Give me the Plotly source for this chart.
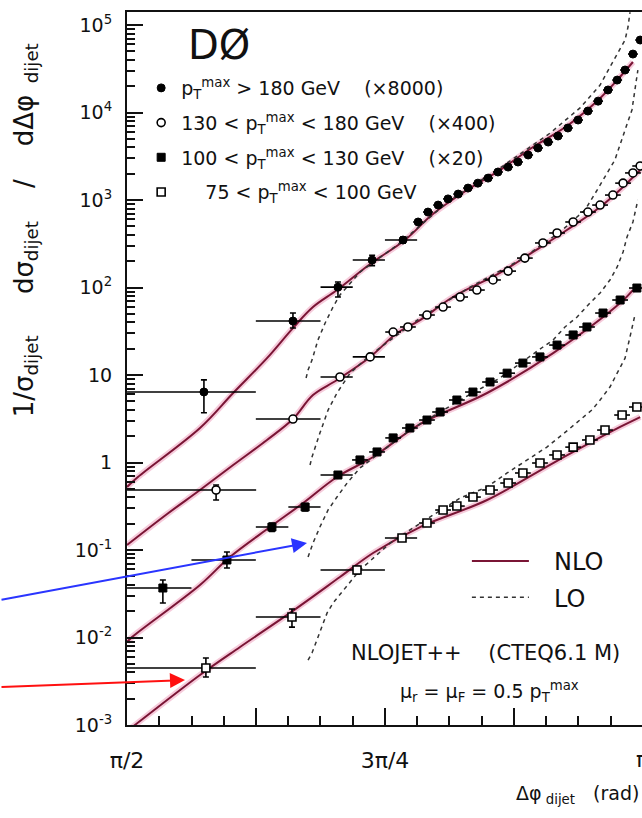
import math
import plotly.graph_objects as go

PI = math.pi

# ---------------- measured data (Δφ in rad, normalised cross section) ----------------
# pT^max > 180 GeV  (x8000)
s1_x = [1.805, 2.076, 2.213, 2.317, 2.411, 2.457, 2.487, 2.518, 2.548, 2.579, 2.609, 2.639, 2.670, 2.700,
        2.731, 2.761, 2.792, 2.822, 2.853, 2.883, 2.913, 2.944, 2.974, 3.005, 3.035, 3.063, 3.087, 3.111, 3.133]
s1_y = [6.4, 41.4, 101, 206, 349, 561, 729, 876, 1030, 1170, 1370, 1560, 1780, 2090,
        2380, 2720, 3270, 3930, 4600, 5390, 6650, 8210, 10400, 13500, 18100, 23500, 30600, 46600, 67400]
s1_xm = [0.234, 0.113, 0.053, 0.059, 0.055] + [0.015] * 24
s1_xp = [0.158, 0.084, 0.045, 0.039, 0.043] + [0.015] * 24
s1_yp = [2.4, 9.7, 14.6, 28, 28] + [0] * 24
s1_ym = [2.7, 7.0, 23, 28, 28] + [0] * 24

# 130 < pT^max < 180 GeV  (x400)
s2_x = [1.842, 2.076, 2.219, 2.311, 2.381, 2.426, 2.484, 2.533, 2.585, 2.636, 2.685, 2.731, 2.782, 2.837,
        2.880, 2.929, 2.974, 3.011, 3.050, 3.081, 3.111, 3.133]
s2_y = [0.485, 3.14, 9.49, 16.1, 31.0, 35.4, 48.5, 59.8, 77.9, 93.6, 122, 154, 217, 323,
        420, 561, 729, 876, 1140, 1560, 2040, 2450]
s2_xm = [0.271, 0.113, 0.059, 0.053] + [0.024] * 18
s2_xp = [0.122, 0.084, 0.039, 0.045] + [0.024] * 18
s2_yp = [0.068, 0.25, 0.6, 1.0] + [0] * 18
s2_ym = [0.112, 0.25, 0.6, 1.0] + [0] * 18

# 100 < pT^max < 130 GeV  (x20)
s3_x = [1.680, 1.875, 2.012, 2.113, 2.213, 2.280, 2.332, 2.381, 2.432, 2.484, 2.524, 2.575, 2.624, 2.676,
        2.728, 2.776, 2.828, 2.880, 2.929, 2.971, 3.020, 3.072, 3.123]
s3_y = [0.0368, 0.0769, 0.183, 0.310, 0.720, 1.07, 1.32, 1.91, 2.48, 3.06, 3.78, 5.18, 6.39, 8.32,
        10.5, 13.7, 16.1, 22.0, 28.7, 35.4, 51.1, 72.0, 98.7]
s3_xm = [0.109, 0.108, 0.049, 0.051, 0.053] + [0.024] * 18
s3_xp = [0.087, 0.088, 0.050, 0.047, 0.045] + [0.024] * 18
s3_yp = [0.0086, 0.018, 0.02, 0.03, 0.05] + [0] * 18
s3_ym = [0.012, 0.0146, 0.02, 0.03, 0.05] + [0] * 18

# 75 < pT^max < 100 GeV
s4_x = [1.811, 2.073, 2.271, 2.408, 2.484, 2.533, 2.575, 2.624, 2.676, 2.731, 2.776, 2.828, 2.880, 2.929,
        2.980, 3.026, 3.078, 3.123]
s4_y = [0.00448, 0.01715, 0.0591, 0.137, 0.2035, 0.2865, 0.318, 0.403, 0.485, 0.583, 0.759, 0.987, 1.22, 1.50,
        1.81, 2.35, 3.49, 4.31]
s4_xm = [0.240, 0.110, 0.111, 0.052] + [0.024] * 14
s4_xp = [0.152, 0.087, 0.085, 0.046] + [0.024] * 14
s4_yp = [0.00135, 0.0040, 0.006, 0.01] + [0] * 14
s4_ym = [0.00094, 0.0040, 0.006, 0.01] + [0] * 14

# NLO predictions
nlo1_x = [1.5708, 1.604, 1.793, 1.894, 1.997, 2.076, 2.137, 2.210, 2.311, 2.417, 2.502, 2.606, 2.706, 2.807,
          2.910, 3.011, 3.063, 3.111]
nlo1_y = [0.525, 0.683, 2.48, 6.23, 15.6, 34.4, 59.8, 93.6, 186, 349, 692, 1300, 2200, 4040,
          7010, 14600, 23500, 37800]
nlo2_x = [1.5708, 1.693, 1.793, 1.894, 1.997, 2.076, 2.137, 2.210, 2.311, 2.393, 2.463, 2.563, 2.706, 2.807,
          2.910, 3.011, 3.081, 3.133]
nlo2_y = [0.114, 0.258, 0.485, 0.936, 1.81, 3.14, 5.91, 8.77, 16.1, 30.2, 42.5, 77.9, 147, 255,
          454, 832, 1410, 2200]
nlo3_x = [1.5708, 1.586, 1.793, 1.884, 2.006, 2.107, 2.210, 2.320, 2.463, 2.667, 2.868, 3.072, 3.111]
nlo3_y = [0.00888, 0.0101, 0.0398, 0.0832, 0.183, 0.344, 0.683, 1.156, 2.75, 6.23, 17.8, 66.5, 93.6]
nlo4_x = [1.5708, 1.595, 1.793, 1.915, 2.067, 2.219, 2.320, 2.463, 2.667, 2.868, 3.072, 3.133]
nlo4_y = [0.00085, 0.001, 0.00373, 0.00779, 0.0191, 0.0491, 0.0924, 0.183, 0.373, 0.987, 2.55, 3.31]

# LO predictions
lo1_x = [2.116, 2.122, 2.134, 2.152, 2.174, 2.198, 2.219, 2.280, 2.402, 2.554, 2.706, 2.859, 2.950, 3.011,
         3.041, 3.066, 3.087, 3.096, 3.102]
lo1_y = [9.24, 11.4, 14.8, 25.1, 39.3, 59.8, 82.1, 150, 323, 1000, 2320, 5830, 11300, 20600,
         33100, 47900, 67400, 94900, 140000]
lo2_x = [2.128, 2.134, 2.158, 2.183, 2.210, 2.250, 2.311, 2.463, 2.615, 2.767, 2.889, 2.965, 3.002, 3.026,
         3.056, 3.087, 3.108, 3.126]
lo2_y = [0.936, 1.156, 2.17, 3.98, 6.23, 10.5, 16.9, 44.8, 101, 206, 431, 769, 1300, 1830,
         2870, 6310, 10700, 30600]
lo3_x = [2.122, 2.137, 2.158, 2.183, 2.210, 2.241, 2.280, 2.432, 2.585, 2.706, 2.837, 2.868, 2.904, 2.941,
         2.980, 3.011, 3.041, 3.063, 3.081, 3.093, 3.111, 3.126]
lo3_y = [0.0832, 0.120, 0.183, 0.287, 0.403, 0.583, 0.865, 2.35, 5.18, 9.24, 20.9, 25.1, 35.4, 46.0,
         66.5, 86.5, 122, 172, 255, 378, 561, 1000]
lo4_x = [2.122, 2.134, 2.149, 2.164, 2.180, 2.198, 2.225, 2.280, 2.372, 2.478, 2.585, 2.667, 2.728, 2.789,
         2.849, 2.913, 2.950, 2.986, 3.011, 3.041, 3.063, 3.087, 3.102, 3.117]
lo4_y = [0.00553, 0.00665, 0.00936, 0.0132, 0.0191, 0.0248, 0.0331, 0.0591, 0.120, 0.220, 0.393, 0.525, 0.759, 1.07,
         1.50, 2.35, 3.06, 3.98, 5.18, 7.29, 10.5, 15.6, 27.2, 48.5]

series_names = [
    "p<sub>T</sub><sup>max</sup> &gt; 180 GeV    (×8000)",
    "130 &lt; p<sub>T</sub><sup>max</sup> &lt; 180 GeV    (×400)",
    "100 &lt; p<sub>T</sub><sup>max</sup> &lt; 130 GeV    (×20)",
    "\u2007\u200775 &lt; p<sub>T</sub><sup>max</sup> &lt; 100 GeV",
]
theory_names = ["\u2007\u2009NLO", "\u2007\u2009LO"]

y_tick_vals = [1e-3, 1e-2, 1e-1, 1, 10, 1e2, 1e3, 1e4, 1e5]
y_tick_text = ["10<sup>-3</sup>", "10<sup>-2</sup>", "10<sup>-1</sup>", "1", "10",
               "10<sup>2</sup>", "10<sup>3</sup>", "10<sup>4</sup>", "10<sup>5</sup>"]
x_tick_vals = [PI / 2, 5 * PI / 8, 3 * PI / 4, 7 * PI / 8]
x_tick_text = ["π/2", "", "3π/4", ""]

FONT = "DejaVu Sans"
NLO_COLOR = "#7a1535"
HALO_COLOR = "rgba(235,140,175,0.45)"

fig = go.Figure()

# NLO curves (pink halo + dark line)
for i, (xs, ys) in enumerate([(nlo1_x, nlo1_y), (nlo2_x, nlo2_y), (nlo3_x, nlo3_y), (nlo4_x, nlo4_y)]):
    fig.add_trace(go.Scatter(x=xs, y=ys, mode="lines", line=dict(color=HALO_COLOR, width=6, shape="spline"),
                             showlegend=False, hoverinfo="skip"))
    fig.add_trace(go.Scatter(x=xs, y=ys, mode="lines", name=theory_names[0], legend="legend2",
                             legendgroup="nlo", line=dict(color=NLO_COLOR, width=2, shape="spline"),
                             showlegend=(i == 0)))

# LO curves (dashed)
for i, (xs, ys) in enumerate([(lo1_x, lo1_y), (lo2_x, lo2_y), (lo3_x, lo3_y), (lo4_x, lo4_y)]):
    fig.add_trace(go.Scatter(x=xs, y=ys, mode="lines", name=theory_names[1], legend="legend2",
                             legendgroup="lo", line=dict(color="#333333", width=1.5, dash="4px,4px"),
                             showlegend=(i == 0)))

# data
styles = [
    dict(symbol="circle", color="black", line=dict(color="black", width=1)),
    dict(symbol="circle", color="white", line=dict(color="black", width=1.6)),
    dict(symbol="square", color="black", line=dict(color="black", width=1)),
    dict(symbol="square", color="white", line=dict(color="black", width=1.6)),
]
data = [
    (s1_x, s1_y, s1_xm, s1_xp, s1_ym, s1_yp),
    (s2_x, s2_y, s2_xm, s2_xp, s2_ym, s2_yp),
    (s3_x, s3_y, s3_xm, s3_xp, s3_ym, s3_yp),
    (s4_x, s4_y, s4_xm, s4_xp, s4_ym, s4_yp),
]
for k, (xs, ys, xm, xp, ym, yp) in enumerate(data):
    fig.add_trace(go.Scatter(
        x=xs, y=ys, mode="markers", name=series_names[k], legendgroup="s%d" % k,
        marker=dict(size=8, **styles[k]),
        error_x=dict(type="data", symmetric=False, array=xp, arrayminus=xm, color="black",
                     thickness=1.6, width=0),
        error_y=dict(type="data", symmetric=False, array=yp, arrayminus=ym, color="black",
                     thickness=1.6, width=3),
    ))

minor_y = [m * 10 ** e for e in range(-3, 6) for m in range(2, 10)]

fig.update_layout(
    width=642, height=818,
    margin=dict(l=127, r=0, t=12, b=93),
    paper_bgcolor="white", plot_bgcolor="white",
    font=dict(family=FONT, color="#111111"),
    xaxis=dict(range=[PI / 2, 3.1386], showline=True, linewidth=2, linecolor="#111111", mirror=True,
               ticks="inside", tickvals=x_tick_vals, ticktext=x_tick_text, ticklen=17, tickwidth=2,
               tickcolor="#111111", tickfont=dict(size=22, family=FONT), ticklabelstandoff=15,
               showgrid=False, zeroline=False,
               minor=dict(tickmode="linear", tick0=PI / 2, dtick=PI / 32, ticks="inside", ticklen=9,
                          tickwidth=1.5, tickcolor="#111111", showgrid=False)),
    yaxis=dict(type="log", range=[-3, 5.149], showline=True, linewidth=2, linecolor="#111111",
               ticks="inside", tickvals=y_tick_vals, ticktext=y_tick_text, ticklen=16, tickwidth=2,
               tickcolor="#111111", tickfont=dict(size=19, family=FONT), ticklabelstandoff=9,
               showgrid=False, zeroline=False,
               minor=dict(tickmode="array", tickvals=minor_y, ticks="inside", ticklen=8, tickwidth=1.5,
                          tickcolor="#111111", showgrid=False)),
    legend=dict(x=0.0275, y=0.920, xanchor="left", yanchor="top", bgcolor="rgba(0,0,0,0)",
                font=dict(size=19, family=FONT), tracegroupgap=7, traceorder="grouped"),
    legend2=dict(x=0.66, y=0.261, xanchor="left", yanchor="top", bgcolor="rgba(0,0,0,0)",
                 font=dict(size=24, family=FONT), tracegroupgap=2, traceorder="grouped",
                 itemwidth=57),
    showlegend=True,
)

ann = [
    dict(text="DØ", x=0.1786, y=0.9537, xref="paper", yref="paper", showarrow=False,
         xanchor="center", yanchor="middle", font=dict(size=40, family=FONT)),
    dict(text="NLOJET++    (CTEQ6.1 M)", x=0.697, y=0.101, xref="paper", yref="paper", showarrow=False,
         xanchor="center", yanchor="middle", font=dict(size=21, family=FONT)),
    dict(text="μ<sub>r</sub> = μ<sub>F</sub> = 0.5 p<sub>T</sub><sup>max</sup>", x=0.703, y=0.0463,
         xref="paper", yref="paper", showarrow=False, xanchor="center", yanchor="middle",
         font=dict(size=19, family=FONT)),
    dict(text="π", x=1.00194, y=-0.049, xref="paper", yref="paper", showarrow=False,
         xanchor="center", yanchor="middle", font=dict(size=22, family=FONT)),
    dict(text="Δφ<sub> dijet</sub>   (rad)", x=0.998, y=-0.098, xref="paper", yref="paper",
         showarrow=False, xanchor="right", yanchor="middle", font=dict(size=19, family=FONT)),
    dict(text="1/σ<sub>dijet</sub>     dσ<sub>dijet</sub>    /    dΔφ<sub>  dijet</sub>", x=-0.198, y=0.694,
         xref="paper", yref="paper", showarrow=False, textangle=-90, xanchor="center", yanchor="middle",
         font=dict(size=26, family=FONT)),
    dict(text="", x=0.3495, y=0.2553, xref="paper", yref="paper", showarrow=True, ax=-307, ay=57,
         arrowhead=2, arrowsize=1.5, arrowwidth=2, arrowcolor="#2a35ff", standoff=0),
    dict(text="", x=0.1126, y=0.0631, xref="paper", yref="paper", showarrow=True, ax=-185, ay=7,
         arrowhead=2, arrowsize=1.5, arrowwidth=2, arrowcolor="#ff1010", standoff=0),
]
fig.update_layout(annotations=ann)

fig.write_html("out.html", config={"displayModeBar": False},
               post_script="document.body.style.margin='0';")
